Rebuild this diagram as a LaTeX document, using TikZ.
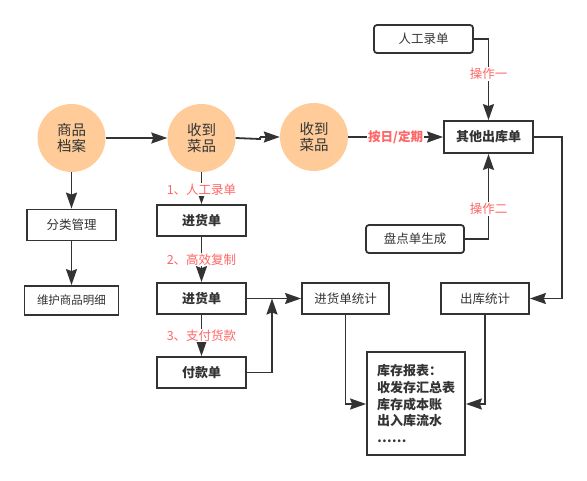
\documentclass[tikz,border=0pt]{standalone}
\usepackage{fontspec}
\setmainfont{Noto Sans CJK SC}
\usetikzlibrary{arrows.meta}
\definecolor{ln}{HTML}{333333}
\definecolor{peach}{HTML}{FFCC99}
\definecolor{lab}{HTML}{FF6666}
\tikzset{
  circ/.style={circle,fill=peach,minimum size=68pt,inner sep=0pt,align=center,font=\fontsize{14.5}{16.5}\selectfont,text=ln},
  boxn/.style={draw=ln,line width=1.8pt,minimum height=31pt,inner sep=0pt,font=\fontsize{12.5}{15}\selectfont,text=ln},
  rbox/.style={boxn,rounded corners=3pt},
  conn/.style={draw=ln,line width=1.8pt,-{Stealth[length=16pt,width=11pt,inset=2pt]}},
  plain/.style={draw=ln,line width=1.8pt},
  lbl/.style={fill=white,inner sep=1pt,text=lab,font=\fontsize{12.5}{14}\selectfont},
}
\begin{document}
\begin{tikzpicture}[x=1pt,y=-1pt]
\useasboundingbox (0,0) rectangle (587,480);
% circles
\node[circ] (c1) at (71.5,138) {商品\\档案};
\node[circ] (c2) at (201.5,138) {收到\\菜品};
\node[circ] (c3) at (314,137) {收到\\菜品};
% left column
\node[boxn,minimum width=89pt] (fl) at (71.5,225) {分类管理};
\node[boxn,minimum width=94pt,minimum height=29pt,font=\fontsize{11.5}{14}\selectfont] (wh) at (71.5,300.5) {维护商品明细};
% middle column
\node[boxn,minimum width=89pt,font=\bfseries\fontsize{13}{15}\selectfont] (jh1) at (201.5,220.5) {进货单};
\node[boxn,minimum width=89pt,font=\bfseries\fontsize{13}{15}\selectfont] (jh2) at (201.5,298.5) {进货单};
\node[boxn,minimum width=89pt,font=\bfseries\fontsize{13}{15}\selectfont] (fk) at (201.5,372.5) {付款单};
\node[boxn,minimum width=87pt] (jtj) at (345.5,298.5) {进货单统计};
% right part
\node[boxn,minimum width=89pt,minimum height=32pt,font=\bfseries\fontsize{13}{15}\selectfont] (qt) at (488.5,137) {其他出库单};
\node[rbox,minimum width=99pt,minimum height=28pt] (rg) at (423.5,39) {人工录单};
\node[rbox,minimum width=98pt,minimum height=28pt] (pd) at (415,239) {盘点单生成};
\node[boxn,minimum width=88pt] (ctj) at (485,298.5) {出库统计};
\node[boxn,minimum width=98pt,minimum height=103pt] (kc) at (416,403.5) {};
\node[anchor=north west,align=left,inner sep=0pt,text=ln,font=\bfseries\fontsize{13}{16.6}\selectfont] (kct) at (377,364.5) {库存报表：\\收发存汇总表\\库存成本账\\出入库流水\\……};
% coordinates
\coordinate (k1) at (260,139);
\coordinate (k2) at (260,137);
\coordinate (pj) at (272,372.5);
\coordinate (pj2) at (272,298.5);
\coordinate (qr) at (562,137);
\coordinate (qd) at (562,298.5);
\coordinate (jd) at (345.5,404);
\coordinate (cd) at (485,404);
\coordinate (rgc) at (488.5,39);
\coordinate (pdc) at (488.5,239);
% connectors
\draw[conn] (c1) -- (c2);
\draw[plain] (c2.east) -- (k1) -- (k2);
\draw[conn] (k2) -- (c3.west);
\draw[conn] (c3) -- node[fill=white,inner sep=1pt,text=lab,font=\bfseries\fontsize{12.5}{15}\selectfont,pos=0.5]{按日/定期} (qt);
\draw[conn] (c1) -- (fl);
\draw[conn] (fl) -- (wh);
\draw[conn] (c2) -- node[lbl,pos=0.55]{1、人工录单} (jh1);
\draw[conn] (jh1) -- node[lbl,pos=0.5]{2、高效复制} (jh2);
\draw[conn] (jh2) -- node[lbl,pos=0.5]{3、支付货款} (fk);
\draw[conn] (jh2) -- (jtj);
\draw[plain] (fk.east) -- (pj);
\draw[conn] (pj) -- (pj2);
\draw[conn] (rg.east) -- (rgc) -- node[lbl,pos=0.43]{操作一} (qt.north);
\draw[conn] (pd.east) -- (pdc) -- node[lbl,pos=0.35]{操作二} (qt.south);
\draw[conn] (qt.east) -- (qr) -- (qd) -- (ctj.east);
\draw[conn] (jtj.south) -- (jd) -- (kc.west |- jd);
\draw[conn] (ctj.south) -- (cd) -- (kc.east |- cd);
\end{tikzpicture}
\end{document}
